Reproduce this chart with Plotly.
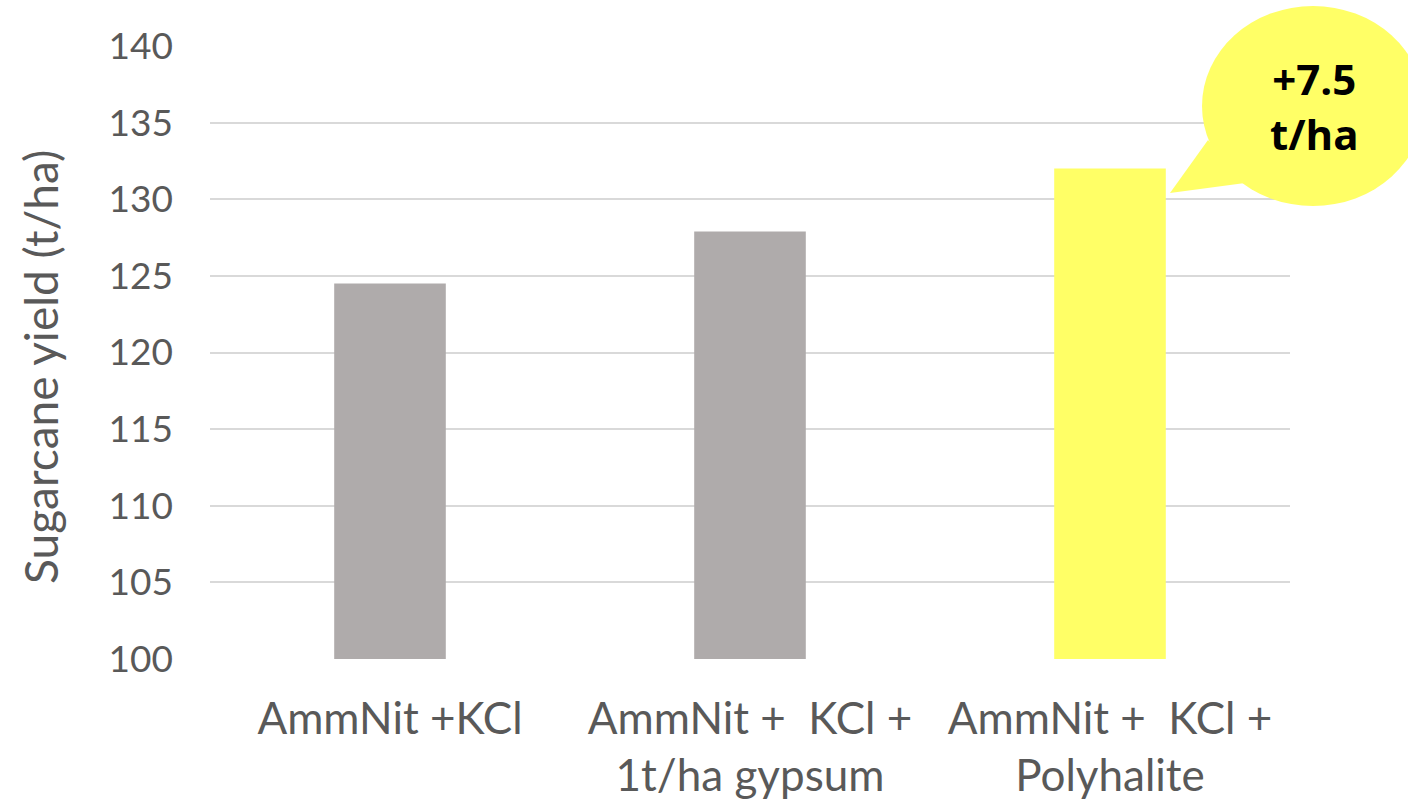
import plotly.graph_objects as go

categories = ["AmmNit +KCl", "AmmNit +  KCl +<br>1t/ha gypsum", "AmmNit +  KCl +<br>Polyhalite"]
yields = [124.5, 127.9, 132.0]
bar_colors = ["#AFABAB", "#AFABAB", "#FFFF66"]
y_ticks = [100, 105, 110, 115, 120, 125, 130, 135, 140]
y_title = "Sugarcane yield (t/ha)"
callout_text = "+7.5<br>t/ha"

W, H = 1408, 803
L, R, T, B = 210, 118, 46, 144
pw, ph = W - L - R, H - T - B


def px(x):
    return (x - L) / pw


def py(y):
    return (H - B - y) / ph


fig = go.Figure(go.Bar(
    x=categories, y=yields, marker=dict(color=bar_colors, line=dict(width=0)),
    width=0.31,
))

shapes = [
    dict(type="circle", xref="paper", yref="paper",
         x0=px(1202), x1=px(1424), y0=py(206), y1=py(6),
         fillcolor="#FFFF66", line=dict(width=0), layer="above"),
    dict(type="path", xref="paper", yref="paper",
         path=f"M {px(1170)},{py(193)} L {px(1208)},{py(140)} L {px(1245)},{py(183)} Z",
         fillcolor="#FFFF66", line=dict(width=0), layer="above"),
]

fig.update_layout(
    width=W, height=H,
    margin=dict(l=L, r=R, t=T, b=B, pad=0),
    paper_bgcolor="white", plot_bgcolor="white",
    showlegend=False,
    font=dict(family="Lato, Open Sans, sans-serif", color="#595959"),
    shapes=shapes,
    annotations=[
        dict(
            text=callout_text, xref="paper", yref="paper",
            x=px(1314), y=py(106), xanchor="center", yanchor="middle",
            showarrow=False, align="center",
            font=dict(family="Open Sans", size=42, color="black", weight="bold"),
        ),
        dict(
            text=y_title, xref="paper", yref="paper",
            x=px(40), y=py(367), xanchor="center", yanchor="middle",
            textangle=-90, showarrow=False,
            font=dict(size=46, color="#595959"),
        ),
    ],
    xaxis=dict(
        showgrid=False, zeroline=False, showline=False, ticks="",
        tickfont=dict(size=44, color="#595959"),
        ticklabelstandoff=30, automargin=False,
    ),
    yaxis=dict(
        range=[100, 140], tickvals=y_ticks, showgrid=True,
        gridcolor="#D9D9D9", gridwidth=2, zeroline=False, showline=False,
        ticks="", tickfont=dict(size=37, color="#595959"),
        ticklabelstandoff=36, automargin=False,
    ),
)

fig.write_html("out.html")
